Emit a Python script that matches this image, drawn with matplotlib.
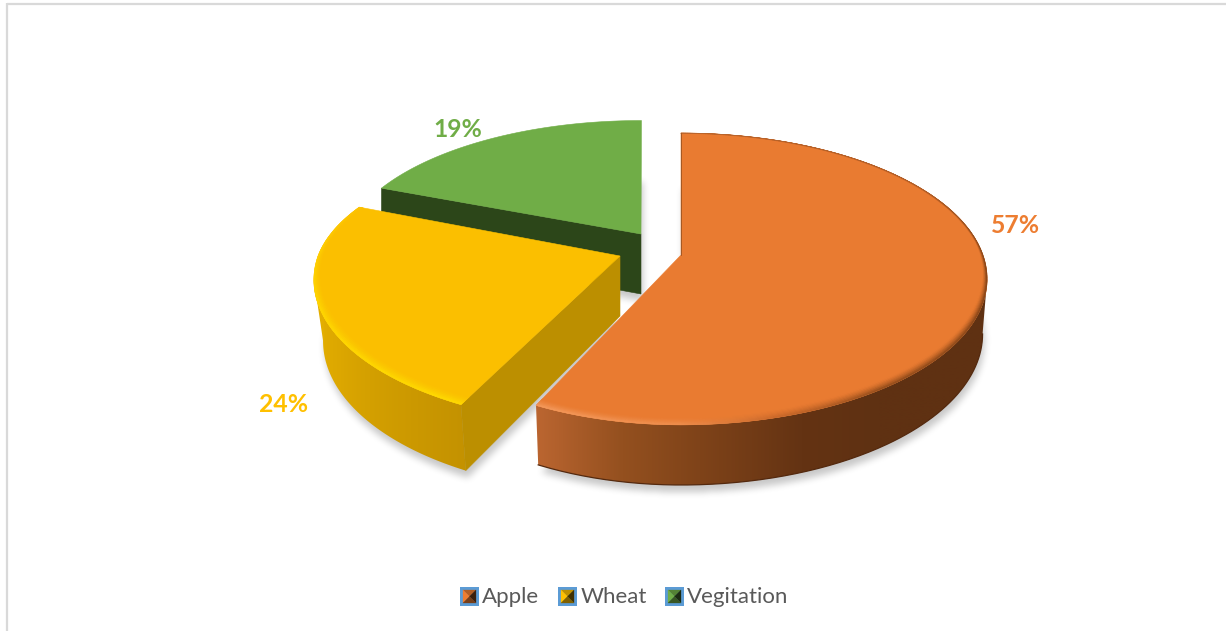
import numpy as np
import matplotlib
matplotlib.use('Agg')
import matplotlib.pyplot as plt
from matplotlib.collections import PolyCollection
from matplotlib.colors import to_rgb
from matplotlib.path import Path
from matplotlib.patches import Polygon, Rectangle

W, H = 1226, 631

categories = ['Apple', 'Wheat', 'Vegitation']
shares = [57, 24, 19]

face_colors = ['#E97B31', '#FBBF00', '#70AD47']
label_colors = ['#ED7D31', '#FFC000', '#70AD47']
inner_wall_colors = [None, '#BC8F00', '#2C4619']

# exploded slice apexes in pixels
apex_x = [681, 620, 641]
apex_y = [255, 256, 234]
scale_x = [1.0, 1.0, 0.98]
back_scale = [1.0, 0.93, 0.93]
left_scale = [0.95, 1.0, 1.0]
rotation = [0, 1.5, 0]
depths = [54, 60, 60]
shrink = [0.985, 0.97, 1.0]

label_x = [1016, 284, 458]
label_y = [225.5, 404.5, 129.5]

legend_box_x = [460, 558, 665]
legend_text_x = [482, 581, 687]

# side wall colours by clockwise angle from the back of the pie
wall_stops = [
    ([0, 145, 160, 177, 190, 205.2], ['#5F3112', '#5F3112', '#643313', '#7F4319', '#94501F', '#BA6530']),
    ([205.2, 240, 270, 292], ['#C49200', '#DCA700', '#E8B300', '#F0BA00']),
    None,
]
rim_stops = [
    ([0, 60, 95, 145, 165, 180, 205.2], ['#B5622A', '#A85A26', '#7A3E15', '#8E4A1A', '#C9682A', '#F09050', '#F59C60']),
    ([205.2, 250, 275, 292], ['#FFDC00', '#FFD800', '#FFCE00', '#FDC400']),
    None,
]
rim_base = [0.006, 0.016, 0]
rim_grow = [0.032, 0.030, 0]

A = 302.0
B = 142.0
K = 0.164
DEPTH_POWER = 0.6


def project(theta_deg, radius, i):
    th = np.radians(np.asarray(theta_deg) + rotation[i])
    X = radius * np.sin(th)
    Y = -radius * np.cos(th)
    s = 1.0 / (1.0 - K * Y)
    sx = np.where(X < 0, left_scale[i], 1.0) * scale_x[i]
    sy = np.where(Y < 0, back_scale[i], 1.0)
    return apex_x[i] + sx * A * X * s, apex_y[i] + sy * B * Y * s, s


def lower(x, y, s, i):
    return apex_x[i] + (x - apex_x[i]) * shrink[i], y + depths[i] * s ** DEPTH_POWER


def color_at(theta, stops):
    angles, cols = stops
    rgb = np.array([to_rgb(c) for c in cols])
    return np.column_stack([np.interp(theta, angles, rgb[:, k]) for k in range(3)])


def blur(a, r):
    kernel = np.ones(2 * r + 1) / (2 * r + 1)
    kernel = np.convolve(np.convolve(kernel, kernel), kernel)
    for axis in (0, 1):
        a = np.apply_along_axis(lambda v: np.convolve(v, kernel, mode='same'), axis, a)
    return a


# slice boundaries, clockwise from the top
fractions = np.cumsum([0] + shares) / sum(shares) * 360
spans = list(zip(fractions[:-1], fractions[1:]))

fig = plt.figure(figsize=(W / 100, H / 100), dpi=100, facecolor='white')
ax = fig.add_axes([0, 0, 1, 1])

# soft shadow under every slice
gx, gy = np.meshgrid(np.arange(W) + 0.5, np.arange(H) + 0.5)
grid = np.column_stack([gx.ravel(), gy.ravel()])
mask = np.zeros(W * H, dtype=bool)
for i, (t0, t1) in enumerate(spans):
    th = np.linspace(t0, t1, 200)
    x, y, s = project(th, 1.0, i)
    bx, by = lower(x, y, s, i)
    bax, bay = lower(apex_x[i], apex_y[i], 1.0, i)
    poly = np.column_stack([np.r_[bax, bx] + 2, np.r_[bay, by] + 7])
    mask |= Path(poly).contains_points(grid)
soft = blur(mask.reshape(H, W).astype(float), 3)
shadow = np.zeros((H, W, 4))
shadow[..., 3] = np.clip(soft, 0, 1) * 0.22
ax.imshow(shadow, extent=(0, W, H, 0), aspect='auto', zorder=1, interpolation='bilinear')

# back to front so the big slice sits on top
for z, i in enumerate([2, 1, 0]):
    t0, t1 = spans[i]
    base = 2 + z * 5
    th = np.arange(t0, t1 + 0.5, 0.5)
    x, y, s = project(th, 1.0, i)
    bx, by = lower(x, y, s, i)

    # outer wall: horizontal colour ramp clipped to the silhouette,
    # which runs from the front corner round to the widest point of the arc
    if wall_stops[i] is not None:
        if i == 0:
            vis = np.arange(np.argmax(x), len(th))
        else:
            vis = np.arange(0, np.argmin(x) + 1)
        order = np.argsort(bx[vis])
        ramp_x = np.arange(np.floor(min(bx[vis].min(), x[vis].min())), np.ceil(max(bx[vis].max(), x[vis].max())) + 1)
        cols = color_at(th[vis][order], wall_stops[i])
        ramp = np.column_stack([np.interp(ramp_x, bx[vis][order], cols[:, k]) for k in range(3)])
        outline = np.column_stack([np.r_[x[vis], bx[vis][::-1]], np.r_[y[vis], by[vis][::-1]]])
        clip = Polygon(outline, closed=True, transform=ax.transData)
        im = ax.imshow(ramp[np.newaxis, :, :], aspect='auto', zorder=base, interpolation='bilinear',
                       extent=(ramp_x[0], ramp_x[-1], outline[:, 1].max(), outline[:, 1].min()))
        im.set_clip_path(clip)
    if i == 0:
        ax.plot(bx[vis], by[vis], color='#54290E', lw=0.9, zorder=base)

    # cut wall that faces the viewer
    bax, bay = lower(apex_x[i], apex_y[i], 1.0, i)
    if inner_wall_colors[i] is not None:
        ax.add_patch(Polygon([(apex_x[i], apex_y[i]), (x[0], y[0]), (bx[0], by[0]), (bax, bay)],
                             closed=True, fc=inner_wall_colors[i], ec=inner_wall_colors[i], lw=0.4, zorder=base + 1))

    # top face
    top = np.column_stack([np.r_[apex_x[i], x], np.r_[apex_y[i], y]])
    ax.add_patch(Polygon(top, closed=True, fc=face_colors[i], ec=face_colors[i], lw=0.4, zorder=base + 2))

    # bevel along the outer edge
    if rim_stops[i] is not None:
        ty = np.clip(-np.cos(np.radians(th)) + 0.1, 0, 1)
        width = rim_base[i] + rim_grow[i] * ty
        rim_cols = color_at(th, rim_stops[i])
        steps = np.linspace(0, 1, 8)
        quads, cols = [], []
        face = np.array(to_rgb(face_colors[i]))
        for a, b in zip(steps[:-1], steps[1:]):
            ox0, oy0, _ = project(th, 1 - width * (1 - a), i)
            ox1, oy1, _ = project(th, 1 - width * (1 - b), i)
            mix = ((a + b) / 2) ** 1.5
            for k in range(len(th) - 1):
                quads.append([(ox0[k], oy0[k]), (ox0[k + 1], oy0[k + 1]), (ox1[k + 1], oy1[k + 1]), (ox1[k], oy1[k])])
                cols.append(face * (1 - mix) + rim_cols[k] * mix)
        ax.add_collection(PolyCollection(quads, facecolors=cols, edgecolors=cols, linewidths=0.3, zorder=base + 3))

    ax.text(label_x[i], label_y[i], f'{shares[i]}%', color=label_colors[i], fontsize=17.8, fontweight='bold',
            family='Lato', ha='center', va='center', zorder=30)

# thin dark seam on the straight back edge of the big slice
xs, ys, _ = project(np.array([360.0]), 1.0, 0)
ax.plot([xs[0], apex_x[0]], [ys[0], apex_y[0]], color='#9A5322', lw=0.6, zorder=20)

# legend with bevelled keys
BOX = 19
for i, name in enumerate(categories):
    x0 = legend_box_x[i]
    y0 = 587
    ax.add_patch(Rectangle((x0, y0), BOX, BOX, fc='#5B9BD5', ec='none', zorder=30))
    l, r = x0 + 3, x0 + BOX - 3
    t, b = y0 + 3, y0 + BOX - 3
    mx, my = (l + r) / 2, (t + b) / 2
    rgb = np.array(to_rgb(label_colors[i]))
    for pts, f in [([(l, t), (r, t), (mx, my)], 0.75),
                   ([(l, t), (l, b), (mx, my)], 1.0),
                   ([(r, t), (r, b), (mx, my)], 0.25),
                   ([(l, b), (r, b), (mx, my)], 0.5)]:
        ax.add_patch(Polygon(pts, closed=True, fc=rgb * f, ec=rgb * f, lw=0.2, zorder=31))
    ax.text(legend_text_x[i], 597, name, color='#595959', fontsize=16, family='Lato',
            ha='left', va='center', zorder=30)

# chart frame, only the top and left edges show
ax.plot([7, W], [4, 4], color='#D9D9D9', lw=1.6, zorder=40, solid_capstyle='butt')
ax.plot([7, 7], [3.2, H], color='#D9D9D9', lw=1.6, zorder=40, solid_capstyle='butt')

ax.set_xlim(0, W)
ax.set_ylim(H, 0)
ax.axis('off')

fig.savefig('out.png', dpi=100, facecolor='white')
